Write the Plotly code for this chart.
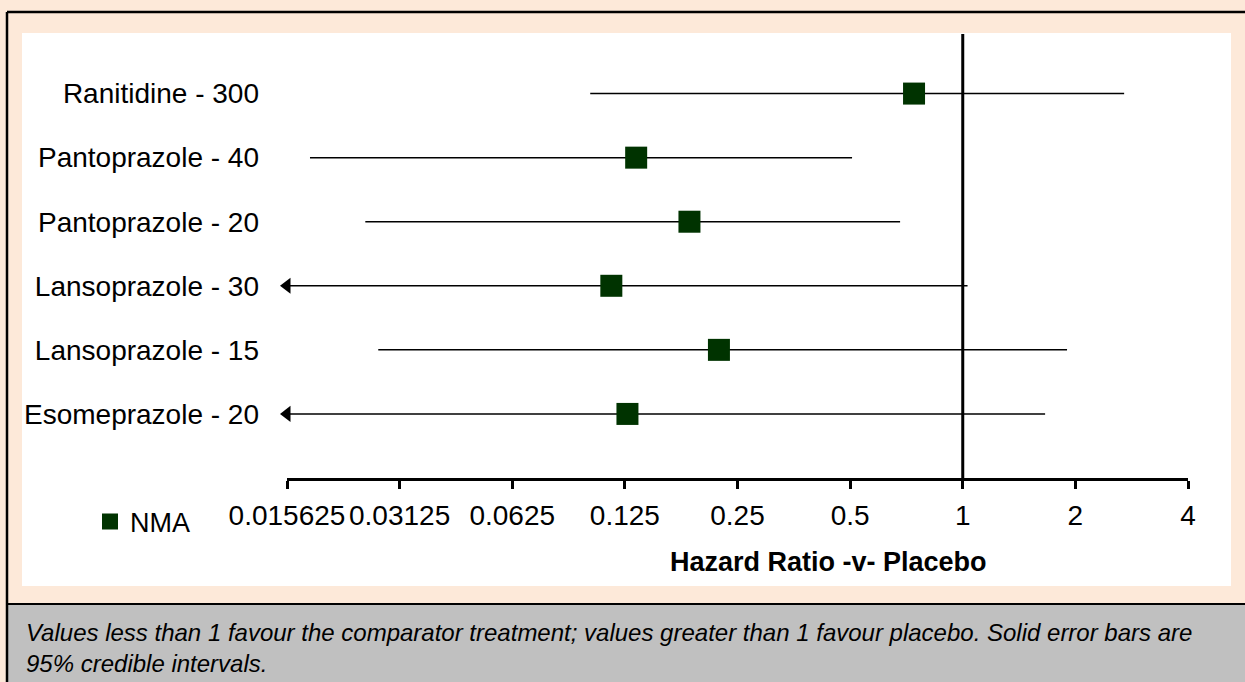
import plotly.graph_objects as go

# ------------------------------------------------------------
# Forest plot — hazard ratio vs placebo (NMA)
# ------------------------------------------------------------

treatments = [
    "Esomeprazole - 20",
    "Lansoprazole - 15",
    "Lansoprazole - 30",
    "Pantoprazole - 20",
    "Pantoprazole - 40",
    "Ranitidine - 300",
]
hr_mean = [0.127, 0.223, 0.115, 0.186, 0.134, 0.741]
hr_low = [0.010, 0.0274, 0.010, 0.0253, 0.018, 0.101]   # < axis min -> arrow
hr_high = [1.66, 1.90, 1.03, 0.68, 0.506, 2.70]

tick_vals = [0.015625, 0.03125, 0.0625, 0.125, 0.25, 0.5, 1, 2, 4]
tick_text = ["0.015625", "0.03125", "0.0625", "0.125", "0.25", "0.5", "1", "2", "4"]

caption = ("Values less than 1 favour the comparator treatment; values greater than 1 "
           "favour placebo. Solid error bars are<br>95% credible intervals.")

# ── figure geometry (pixels) ──
W, H = 1245, 682
L, R, T, B = 287, 57, 34, 204
PW, PH = W - L - R, H - T - B

FONT = "Liberation Sans, Arial, sans-serif"
PEACH = "#FDE9D9"
GREY = "#C0C0C0"
GREEN = "#003300"


def px(x):
    return (x - L) / PW


def py(y):
    return (H - B - y) / PH


x_min = tick_vals[0]
rows = list(range(1, len(treatments) + 1))
low_clip = [max(v, x_min) for v in hr_low]

fig = go.Figure()

# Point estimates + credible intervals
fig.add_trace(go.Scatter(
    x=hr_mean, y=rows,
    mode="markers",
    name="NMA",
    marker=dict(symbol="square", size=22, color=GREEN),
    error_x=dict(
        type="data", symmetric=False,
        array=[h - m for h, m in zip(hr_high, hr_mean)],
        arrayminus=[m - lo for m, lo in zip(hr_mean, low_clip)],
        color="black", thickness=1.5, width=0,
    ),
    cliponaxis=False,
))

# Arrows for intervals running off the axis
arr_y = [r for r, lo in zip(rows, hr_low) if lo < x_min]
fig.add_trace(go.Scatter(
    x=[x_min] * len(arr_y), y=arr_y,
    mode="markers",
    marker=dict(symbol="triangle-left", size=14, color="black"),
    showlegend=False,
    cliponaxis=False,
))

# Line of no effect
fig.add_shape(type="line", xref="x", yref="paper", x0=1, x1=1, y0=0, y1=1,
              line=dict(color="black", width=3))

# Background panels
shapes = [
    dict(type="rect", x0=px(8), x1=px(1260), y0=py(604), y1=py(700),
         fillcolor=GREY, line=dict(width=0)),
    dict(type="rect", x0=px(22), x1=px(1231), y0=py(586), y1=py(33),
         fillcolor="white", line=dict(width=0)),
    dict(type="line", x0=px(7), x1=px(1260), y0=py(12), y1=py(12),
         line=dict(color="black", width=2.5)),
    dict(type="line", x0=px(7), x1=px(1260), y0=py(604), y1=py(604),
         line=dict(color="black", width=2)),
    dict(type="line", x0=px(7), x1=px(7), y0=py(12), y1=py(700),
         line=dict(color="black", width=2.5)),
]
for s in shapes:
    fig.add_shape(xref="paper", yref="paper", layer="below", **s)

# Axis title
fig.add_annotation(
    x=px(828), y=py(562), xref="paper", yref="paper",
    xanchor="center", yanchor="middle",
    text="<b>Hazard Ratio -v- Placebo</b>", showarrow=False,
    font=dict(family=FONT, size=27, color="black"),
)

# Caption
fig.add_annotation(
    x=px(24), y=py(648), xref="paper", yref="paper",
    xanchor="left", yanchor="middle", align="left",
    text=caption, showarrow=False,
    font=dict(family=FONT, size=24, color="black", style="italic"),
)

fig.update_layout(
    width=W, height=H,
    margin=dict(l=L, r=R, t=T, b=B),
    paper_bgcolor=PEACH,
    plot_bgcolor="white",
    font=dict(family=FONT, color="black"),
    showlegend=True,
    legend=dict(
        x=px(90), y=py(522), xanchor="left", yanchor="middle",
        bgcolor="rgba(0,0,0,0)",
        font=dict(family=FONT, size=27, color="black"),
    ),
    xaxis=dict(
        type="log",
        range=[-1.80618, 0.60206],
        tickvals=tick_vals, ticktext=tick_text,
        tickfont=dict(family=FONT, size=28, color="black"),
        ticks="outside", ticklen=8, tickwidth=3, tickcolor="black",
        showline=True, linecolor="black", linewidth=3,
        showgrid=False, zeroline=False,
        ticklabelstandoff=2,
    ),
    yaxis=dict(
        range=[0, 6.93],
        tickvals=rows, ticktext=treatments,
        tickfont=dict(family=FONT, size=28, color="black"),
        ticks="", showline=False, showgrid=False, zeroline=False,
        ticklabelstandoff=27,
    ),
)

# drop the browser's default body margin so the figure fills the window
fig.write_html(
    "out.html",
    config={"displayModeBar": False},
    post_script="document.body.style.margin = '0';",
)
